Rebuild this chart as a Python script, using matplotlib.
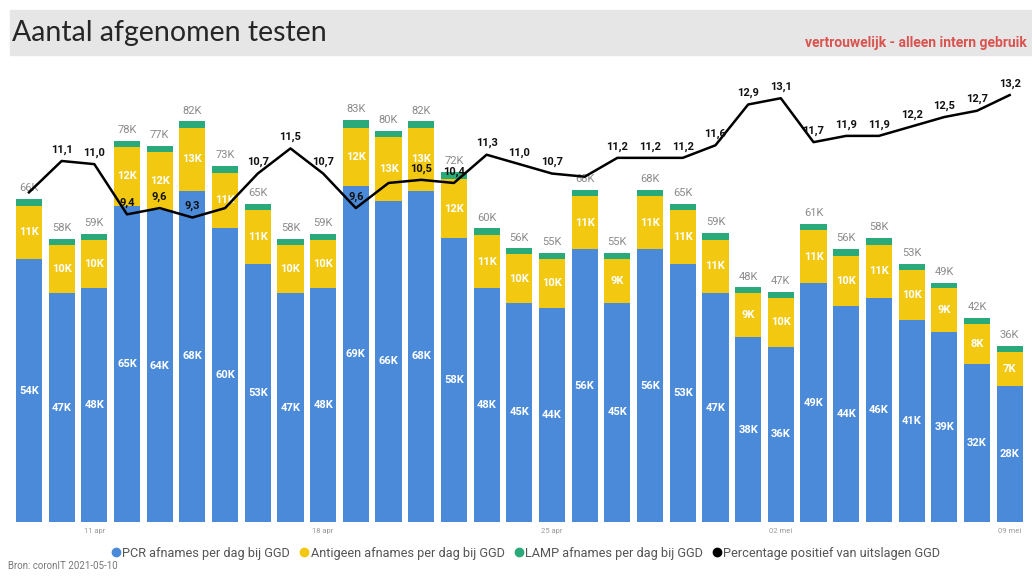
"""Aantal afgenomen testen - stacked bars with positive-percentage line."""
import matplotlib
matplotlib.use("Agg")
import matplotlib.pyplot as plt
from matplotlib.lines import Line2D
from matplotlib.patches import Rectangle

# data (x 1000 tests), 09 apr - 09 mei
pcr = [54.0, 47.0, 48.0, 65.0, 64.0, 68.0, 60.4, 53.0, 47.0, 48.0,
       69.0, 66.0, 68.0, 58.3, 48.0, 45.0, 44.0, 56.0, 45.0, 56.0,
       53.0, 47.0, 38.0, 36.0, 49.0, 44.4, 46.0, 41.4, 39.0, 32.4, 28.0]
antigeen = [11.0, 10.0, 10.0, 12.0, 12.0, 13.0, 11.3, 11.0, 10.0, 10.0,
            12.0, 13.0, 13.0, 12.2, 11.0, 10.0, 10.0, 11.0, 9.0, 11.0,
            11.0, 11.0, 9.0, 10.0, 11.0, 10.3, 11.0, 10.3, 9.0, 8.3, 7.0]
lamp = [1.3, 1.2, 1.2, 1.3, 1.3, 1.3, 1.5, 1.3, 1.2, 1.2,
        1.6, 1.3, 1.3, 1.5, 1.3, 1.2, 1.2, 1.3, 1.2, 1.3,
        1.3, 1.3, 1.2, 1.2, 1.3, 1.4, 1.3, 1.4, 1.2, 1.3, 1.2]
perc = [10.1, 11.1, 11.0, 9.4, 9.6, 9.3, 9.6, 10.7, 11.5, 10.7,
        9.6, 10.4, 10.5, 10.4, 11.3, 11.0, 10.7, 10.6, 11.2, 11.2,
        11.2, 11.6, 12.9, 13.1, 11.7, 11.9, 11.9, 12.2, 12.5, 12.7, 13.2]
# percentage labels hidden in the original (overlapping)
perc_hidden = [0, 6, 11, 17]
tick_pos = [2, 9, 16, 23, 30]
tick_labels = ["11 apr", "18 apr", "25 apr", "02 mei", "09 mei"]

BLUE = "#4a8ad9"
YELLOW = "#f2c811"
GREEN = "#2aa97a"

plt.rcParams["font.family"] = ["Roboto", "DejaVu Sans"]

fig = plt.figure(figsize=(10.32, 5.76), dpi=100)
fig.patches.append(Rectangle((10 / 1032, 521 / 576), 1 - 10 / 1032, 45 / 576,
                             transform=fig.transFigure, color="#e6e6e6", zorder=0))
fig.text(12 / 1032, 543 / 576, "Aantal afgenomen testen", fontsize=20.5,
         family=["Lato", "DejaVu Sans"], fontweight="normal", color="#262626",
         va="center", ha="left")
fig.text(1027 / 1032, 533 / 576, "vertrouwelijk - alleen intern gebruik", fontsize=10,
         fontweight="bold", color="#d9534f", va="center", ha="right")

ax = fig.add_axes([12.6 / 1032, 54 / 576, 1013.4 / 1032, 442 / 576])
x = list(range(len(pcr)))
base2 = [p + a for p, a in zip(pcr, antigeen)]
ax.bar(x, pcr, width=0.8, color=BLUE)
ax.bar(x, antigeen, width=0.8, bottom=pcr, color=YELLOW)
ax.bar(x, lamp, width=0.8, bottom=base2, color=GREEN)

for i in x:
    tot = pcr[i] + antigeen[i] + lamp[i]
    ax.text(i, pcr[i] / 2, f"{round(pcr[i])}K", ha="center", va="center",
            color="white", fontsize=8, fontweight="bold")
    ax.text(i, pcr[i] + antigeen[i] / 2, f"{round(antigeen[i])}K", ha="center",
            va="center", color="white", fontsize=8, fontweight="bold")
    ax.text(i, tot + 1.2, f"{round(tot)}K", ha="center", va="bottom",
            color="#8a8a8a", fontsize=8)

ax.set_xlim(-0.5, len(pcr) - 0.5)
ax.set_ylim(0, 90.8)
ax.set_yticks([])
ax.set_xticks(tick_pos)
ax.set_xticklabels(tick_labels, fontsize=5.5, color="#999999")
ax.tick_params(axis="x", length=0, pad=4)
for s in ax.spines.values():
    s.set_visible(False)

ax2 = ax.twinx()
ax2.plot(x, perc, color="black", lw=1.8)
for i in x:
    if i not in perc_hidden:
        ax2.text(i, perc[i] + 0.2, f"{perc[i]:.1f}".replace(".", ","), ha="center",
                 va="bottom", fontsize=8, fontweight="bold", color="#111111")
ax2.set_ylim(-0.4, 13.68)
ax2.set_yticks([])
for s in ax2.spines.values():
    s.set_visible(False)

handles = [
    Line2D([], [], marker="o", ls="", color=BLUE, ms=6),
    Line2D([], [], marker="o", ls="", color=YELLOW, ms=6),
    Line2D([], [], marker="o", ls="", color=GREEN, ms=6),
    Line2D([], [], marker="o", ls="", color="black", ms=6),
]
labels = ["PCR afnames per dag bij GGD", "Antigeen afnames per dag bij GGD",
          "LAMP afnames per dag bij GGD", "Percentage positief van uitslagen GGD"]
fig.legend(handles, labels, loc="center", bbox_to_anchor=(525 / 1032, 23 / 576),
           ncol=4, frameon=False, fontsize=9.2, handletextpad=0.0,
           columnspacing=0.6, labelcolor="#555555", handlelength=1.0)
fig.text(8 / 1032, 5 / 576, "Bron: coronIT 2021-05-10", fontsize=7, color="#777777",
         va="bottom", ha="left")

fig.savefig("out.png", dpi=100)
